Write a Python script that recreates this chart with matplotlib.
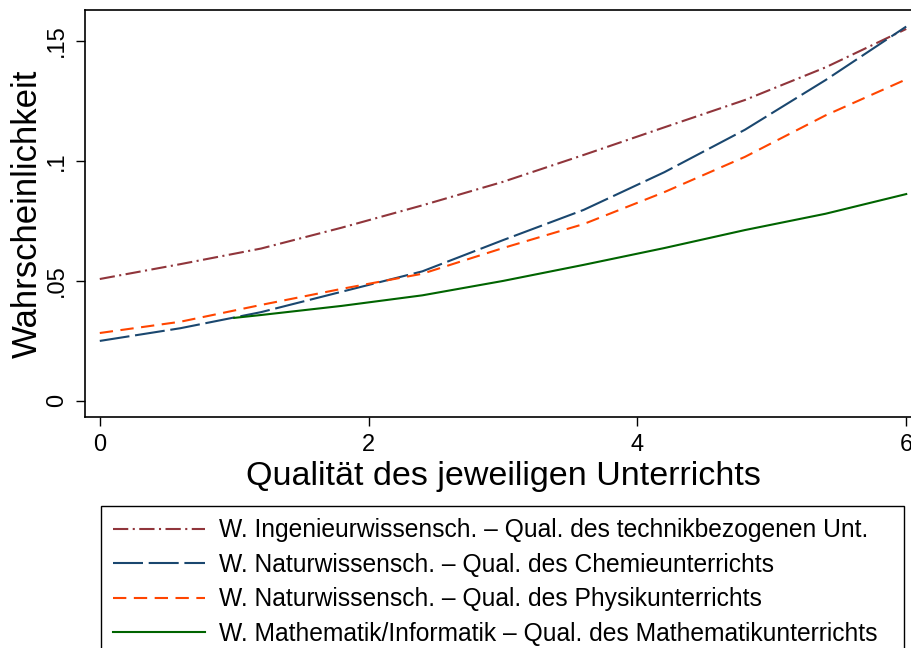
import numpy as np
from matplotlib import pyplot as plt

plt.rcParams['font.family'] = ['Liberation Sans', 'DejaVu Sans']
plt.rcParams['lines.scale_dashes'] = False

# predicted probabilities
x = [0, 0.6, 1.2, 1.8, 2.4, 3.0, 3.6, 4.2, 4.8, 5.4, 6.0]
ingenieur = [0.0508, 0.057, 0.0635, 0.0722, 0.0815, 0.0913, 0.1025, 0.114, 0.1254, 0.139, 0.155]
chemie = [0.025, 0.0303, 0.037, 0.0455, 0.054, 0.067, 0.0796, 0.0953, 0.113, 0.1337, 0.156]
physik = [0.0283, 0.033, 0.040, 0.0467, 0.053, 0.0637, 0.0737, 0.087, 0.1017, 0.119, 0.134]

x_mathe = [1.0, 1.2, 1.8, 2.4, 3.0, 3.6, 4.2, 4.8, 5.4, 6.0]
mathe = [0.0346, 0.0358, 0.0396, 0.044, 0.050, 0.0567, 0.0637, 0.0712, 0.078, 0.0862]

labels = [
    'W. Ingenieurwissensch. \u2013 Qual. des technikbezogenen Unt.',
    'W. Naturwissensch. \u2013 Qual. des Chemieunterrichts',
    'W. Naturwissensch. \u2013 Qual. des Physikunterrichts',
    'W. Mathematik/Informatik \u2013 Qual. des Mathematikunterrichts',
]

fig = plt.figure(figsize=(9.12, 6.48), dpi=100)
ax = fig.add_axes([85 / 912, 1 - 417 / 648, 836 / 912, 407 / 648])

lw = 1.5
ax.plot(x, ingenieur, color='#90353B', lw=lw, dashes=(11, 3.2, 1.5, 3.2), label=labels[0])
ax.plot(x, chemie, color='#1A476F', lw=lw, dashes=(21.6, 4.1), label=labels[1])
ax.plot(x, physik, color='#FF4500', lw=lw, dashes=(9.6, 5.4), label=labels[2])
ax.plot(x_mathe, mathe, color='#006400', lw=lw, label=labels[3])

ax.set_xlim(-0.11, 6.11)
ax.set_ylim(-0.0067, 0.1629)
ax.set_xticks([0, 2, 4, 6])
ax.set_yticks([0, 0.05, 0.1, 0.15])
ax.set_yticklabels(['0', '.05', '.1', '.15'], rotation=90, va='center')
ax.tick_params(labelsize=17, length=6.5, width=1, color='black', pad=6)

for s in ax.spines.values():
    s.set_linewidth(1.2)

ax.set_xlabel('Qualit\u00e4t des jeweiligen Unterrichts', fontsize=24.5, labelpad=3)
ax.set_ylabel('Wahrscheinlichkeit', fontsize=25, labelpad=1)

leg = fig.legend(loc='upper left',
                 bbox_to_anchor=(101 / 912, 1 - 506 / 648 - 0.01, 803 / 912, 0.01),
                 mode='expand', frameon=True, fancybox=False, edgecolor='black', framealpha=1,
                 borderaxespad=0, borderpad=0.5, handlelength=3.75, handletextpad=0.57,
                 labelspacing=0.425, fontsize=17.7)
leg.get_frame().set_linewidth(1.0)

fig.savefig('out.png', dpi=100)
